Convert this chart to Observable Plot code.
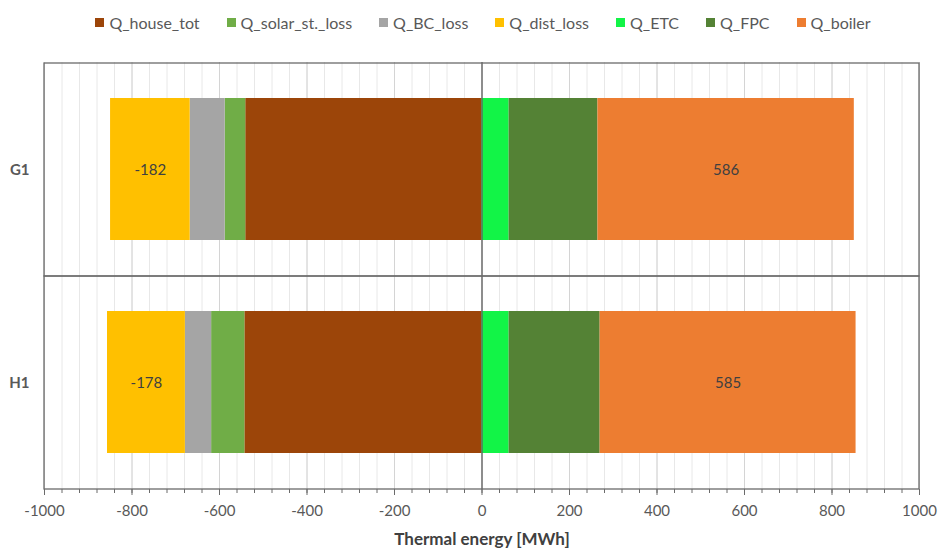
<!DOCTYPE html>
<html>
<head>
<meta charset="utf-8">
<script src="https://cdn.jsdelivr.net/npm/d3@7"></script>
<script src="https://cdn.jsdelivr.net/npm/@observablehq/plot@0.6"></script>
<style>
  html, body { margin: 0; padding: 0; background: #fff; }
  body { width: 940px; height: 549px; overflow: hidden; font-family: Lato, "Open Sans", sans-serif; }
  #legend { height: 44px; display: flex; justify-content: center; align-items: center; gap: 27px; font-size: 16px; color: #595959; padding-left: 26px; box-sizing: border-box; }
  .item { display: flex; align-items: center; gap: 5px; }
  .sw { width: 9px; height: 9px; display: inline-block; }
</style>
</head>
<body>
<div id="legend"></div>
<div id="chart"></div>
<script>
const cases = ["G1", "H1"];
const seriesNames = ["Q_house_tot", "Q_solar_st._loss", "Q_BC_loss", "Q_dist_loss", "Q_ETC", "Q_FPC", "Q_boiler"];
const seriesColors = ["#9C4509", "#70AD47", "#A5A5A5", "#FFC000", "#12F447", "#548235", "#ED7D31"];
const Q_house_tot = [-540, -542];
const Q_solar_st_loss = [-47, -76];
const Q_BC_loss = [-80, -60];
const Q_dist_loss = [-182, -178];
const Q_ETC = [62, 62];
const Q_FPC = [203, 208];
const Q_boiler = [586, 585];
const labeledSeries = ["Q_dist_loss", "Q_boiler"];
const xDomain = [-1000, 1000];
const majorTicks = d3.range(-1000, 1001, 200);
const minorTicks = d3.range(-1000, 1001, 40);

const seriesValues = [Q_house_tot, Q_solar_st_loss, Q_BC_loss, Q_dist_loss, Q_ETC, Q_FPC, Q_boiler];
const data = [];
seriesNames.forEach((s, i) => cases.forEach((c, j) => data.push({case: c, series: s, value: seriesValues[i][j]})));

// legend
const legend = document.getElementById("legend");
seriesNames.forEach((s, i) => {
  const it = document.createElement("span");
  it.className = "item";
  it.innerHTML = `<span class="sw" style="background:${seriesColors[i]}"></span><span>${s}</span>`;
  legend.appendChild(it);
});

const chart = Plot.plot({
  width: 940,
  height: 505,
  marginLeft: 44,
  marginRight: 21,
  marginTop: 18,
  marginBottom: 60,
  style: { fontFamily: "Lato, 'Open Sans', sans-serif", background: "#fff" },
  x: { domain: xDomain, label: null },
  y: { domain: cases, padding: 0, label: null },
  color: { domain: seriesNames, range: seriesColors },
  marks: [
    Plot.gridX(minorTicks, { stroke: "#e8e8e8", strokeOpacity: 1 }),
    Plot.gridX(majorTicks, { stroke: "#d4d4d4", strokeOpacity: 1 }),
    Plot.barX(data, Plot.stackX({
      x: "value", y: "case", z: "series", fill: "series",
      insetTop: 35, insetBottom: 36, order: seriesNames
    })),
    Plot.text(data, Plot.stackX({
      x: "value", y: "case", z: "series", order: seriesNames,
      text: d => labeledSeries.includes(d.series) ? String(d.value) : "",
      fill: "#404040", fontSize: 15
    })),
    Plot.ruleX([0], { stroke: "#5f5f5f", strokeWidth: 1.3 }),
    Plot.cell(cases, { y: d => d, fill: "none", stroke: "#6b6b6b", strokeWidth: 1.3, inset: 0 }),
    Plot.axisX(minorTicks, { tickSize: 4, text: null, stroke: "#6b6b6b", label: null }),
    Plot.axisX(majorTicks, {
      tickSize: 6, tickPadding: 10, stroke: "#6b6b6b", fill: "#595959", fontSize: 15,
      tickFormat: d => String(d), label: null
    }),
    Plot.axisY({ tickSize: 0, tickPadding: 15, fontSize: 15, fontWeight: "bold", fill: "#595959", label: null }),
    Plot.text(["Thermal energy [MWh]"], {
      frameAnchor: "bottom", dy: 50, lineAnchor: "middle", fontSize: 17, fontWeight: "bold", fill: "#404040"
    })
  ]
});
document.getElementById("chart").appendChild(chart);
</script>
</body>
</html>
